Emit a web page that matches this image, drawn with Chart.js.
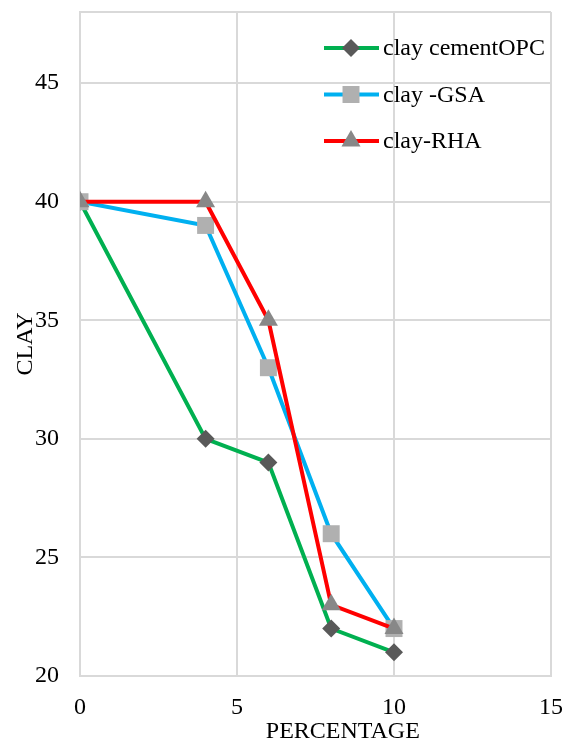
<!DOCTYPE html>
<html>
<head>
<meta charset="utf-8">
<script src="https://cdn.jsdelivr.net/npm/chart.js@4/dist/chart.umd.min.js"></script>
<style>
  html, body { margin: 0; padding: 0; background: #ffffff; }
  #wrap { width: 572px; height: 744px; }
</style>
</head>
<body>
<div id="wrap"><canvas id="c" width="572" height="744"></canvas></div>
<script>
// Replacement percentage (x) and measured clay values (y)
const percentages = [0, 4, 6, 8, 10];
const clayCementOPC = [40, 30, 29, 22, 21];
const clayGSA = [40, 39, 33, 26, 22];
const clayRHA = [40, 40, 35, 23, 22];

const seriesNames = ['clay cementOPC', 'clay -GSA', 'clay-RHA'];
const xTitle = 'PERCENTAGE';
const yTitle = 'CLAY';

const FONT = '"Liberation Serif", "Times New Roman", serif';
const FONT_SIZE = 24;
const GRID = '#d9d9d9';

const toPoints = vals => vals.map((v, i) => ({ x: percentages[i], y: v }));

const datasets = [
  {
    label: seriesNames[0], data: toPoints(clayCementOPC),
    borderColor: '#00b050', backgroundColor: '#595959',
    pointStyle: 'rectRot', pointRadius: 9, order: 2
  },
  {
    label: seriesNames[1], data: toPoints(clayGSA),
    borderColor: '#00b0f0', backgroundColor: '#b0b0b0',
    pointStyle: 'rect', pointRadius: 12, order: 1
  },
  {
    label: seriesNames[2], data: toPoints(clayRHA),
    borderColor: '#ff0000', backgroundColor: '#888888',
    pointStyle: 'triangle', pointRadius: 11, order: 0
  }
].map(d => Object.assign({
  borderWidth: 4,
  pointBorderWidth: 0,
  pointBorderColor: d.backgroundColor,
  pointBackgroundColor: d.backgroundColor,
  fill: false,
  tension: 0,
  showLine: true
}, d));

// Legend box in the upper right of the plot: line sample with its marker, then the name
const lineLegend = {
  id: 'lineLegend',
  afterDatasetsDraw(chart) {
    const ctx = chart.ctx;
    const x0 = 324, x1 = 379, xm = 351, tx = 383;
    const rows = [48, 94.5, 141];
    chart.data.datasets.forEach((ds, i) => {
      const y = rows[i];
      ctx.save();
      ctx.strokeStyle = ds.borderColor;
      ctx.lineWidth = 4;
      ctx.lineCap = 'butt';
      ctx.beginPath();
      ctx.moveTo(x0, y);
      ctx.lineTo(x1, y);
      ctx.stroke();
      ctx.fillStyle = ds.backgroundColor;
      ctx.strokeStyle = ds.backgroundColor;
      Chart.helpers.drawPoint(ctx, { pointStyle: ds.pointStyle, radius: ds.pointRadius, borderWidth: 0 }, xm, y);
      ctx.fillStyle = '#000000';
      ctx.font = FONT_SIZE + 'px ' + FONT;
      ctx.textAlign = 'left';
      ctx.textBaseline = 'middle';
      ctx.fillText(ds.label, tx, y + 1);
      ctx.restore();
    });
  }
};

// Horizontal axis title, placed below the tick labels
const xAxisTitle = {
  id: 'xAxisTitle',
  afterDraw(chart) {
    const ctx = chart.ctx;
    const a = chart.chartArea;
    ctx.save();
    ctx.fillStyle = '#000000';
    ctx.font = FONT_SIZE + 'px ' + FONT;
    ctx.textAlign = 'center';
    ctx.textBaseline = 'middle';
    ctx.fillText(xTitle, a.left + (a.right - a.left) * 0.558, 732);
    ctx.restore();
  }
};

new Chart(document.getElementById('c'), {
  type: 'scatter',
  data: { datasets },
  options: {
    responsive: false,
    animation: false,
    layout: { padding: { left: 0, right: 21, top: 11, bottom: 0 } },
    plugins: { legend: { display: false }, tooltip: { enabled: false } },
    scales: {
      x: {
        type: 'linear', min: 0, max: 15,
        ticks: { stepSize: 5, color: '#000000', font: { family: FONT, size: FONT_SIZE }, padding: 17, maxRotation: 0 },
        grid: { color: GRID, lineWidth: 2, drawTicks: false },
        border: { color: GRID, width: 2 },
        afterFit(s) { s.height = 68; s.paddingLeft = 0; s.paddingRight = 0; }
      },
      y: {
        type: 'linear', min: 20, max: 48,
        ticks: {
          stepSize: 5, color: '#000000', font: { family: FONT, size: FONT_SIZE }, padding: 21,
          callback: v => (v % 5 === 0 ? String(v) : '')
        },
        grid: { color: GRID, lineWidth: 2, drawTicks: false },
        border: { color: GRID, width: 2 },
        title: { display: true, text: yTitle, color: '#000000', font: { family: FONT, size: FONT_SIZE }, padding: { top: 11, bottom: 0 } },
        afterFit(s) { s.width = 80; s.paddingTop = 0; s.paddingBottom = 0; }
      }
    }
  },
  plugins: [lineLegend, xAxisTitle]
});
</script>
</body>
</html>
